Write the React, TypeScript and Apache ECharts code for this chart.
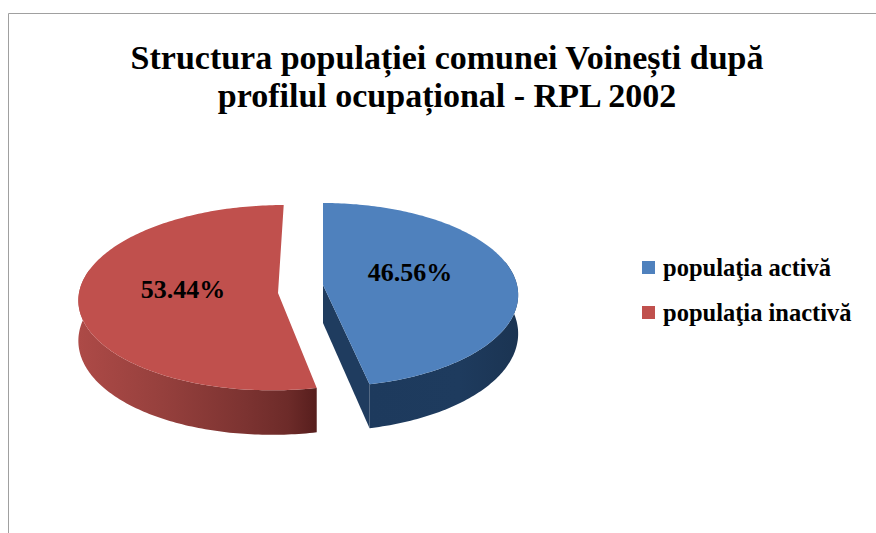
import React, { useEffect, useRef } from "react";
import * as echarts from "echarts";

const titleText = "Structura populației comunei Voinești după\nprofilul ocupațional - RPL 2002";
const categories = ["populaţia activă", "populaţia inactivă"];
const shares = [46.56, 53.44];

const RAD = Math.PI / 180;
const FONT = "'Liberation Serif', 'Times New Roman', serif";

// Perspective view of each exploded slice (styling only, no data)
const views = [
  { cx: 323, cy: 285, a: 194, b: 90.9, p: -0.1087, s: 0, d0: 38, d1: 6, lx: 410, ly: 272,
    top: "#4f81bd", cut: "#1f3c5f", showCut: true,
    wall: [[0, "#1d3a5d"], [0.6, "#1e3b5e"], [1, "#1b3452"]] },
  { cx: 278, cy: 293, a: 199, b: 92.4, p: -0.0505, s: -6, d0: 40, d1: 4.5, lx: 183, ly: 289,
    top: "#c0504d", cut: "#5f2321", showCut: false,
    wall: [[0, "#ad4a47"], [0.35, "#96403d"], [0.7, "#7c3331"], [0.88, "#6d2b29"], [1, "#571e1d"]] },
];

function project(g: any, deg: number, lower: boolean) {
  const u = Math.sin(deg * RAD);
  const v = -Math.cos(deg * RAD);
  const d = 1 + g.p * v;
  const x = g.cx + (g.a * u + g.s * v) / d;
  const y = g.cy + (g.b * v) / d + (lower ? g.d0 + g.d1 * v : 0);
  return [x, y];
}

function arc(g: any, from: number, to: number, lower: boolean) {
  const pts: number[][] = [];
  for (let t = from; t < to; t += 1) pts.push(project(g, t, lower));
  pts.push(project(g, to, lower));
  return pts;
}

function sliceRenderer(index: number) {
  return (_params: any, api: any) => {
    const total = shares.reduce((s, x) => s + x, 0);
    const before = shares.slice(0, index).reduce((s, x) => s + x, 0);
    const value = api.value(0);
    const from = (before / total) * 360;
    const to = ((before + value) / total) * 360;
    const g = views[index];
    const upper = arc(g, from, to, false);
    const lower = arc(g, from, to, true);
    // only the front of the rim is ever seen
    const wallFrom = Math.max(from, 75);
    const wallTo = Math.min(to, 285);
    const wallUpper = arc(g, wallFrom, wallTo, false);
    const wallLower = arc(g, wallFrom, wallTo, true);
    const apexUp = [g.cx, g.cy];
    const apexDown = [g.cx, g.cy + g.d0];
    const wallGrad = new echarts.graphic.LinearGradient(
      0, 0, 1, 0,
      g.wall.map(([offset, color]) => ({ offset: offset as number, color: color as string }))
    );
    const children: any[] = [
      { type: "polygon", shape: { points: [...wallUpper, ...wallLower.slice().reverse()] }, style: { fill: wallGrad } },
    ];
    if (g.showCut) {
      children.push({
        type: "polygon",
        shape: { points: [apexUp, upper[upper.length - 1], lower[lower.length - 1], apexDown] },
        style: { fill: g.cut },
      });
    }
    children.push(
      { type: "polygon", shape: { points: [apexUp, ...upper] }, style: { fill: g.top } },
      {
        type: "text",
        style: {
          text: value.toFixed(2) + "%",
          x: g.lx,
          y: g.ly,
          align: "center",
          verticalAlign: "middle",
          font: `bold 26px ${FONT}`,
          fill: "#000",
        },
      }
    );
    return { type: "group", children };
  };
}

export default function App() {
  const ref = useRef<HTMLDivElement>(null);
  useEffect(() => {
    const chart = echarts.init(ref.current!, null, { renderer: "svg" });
    chart.setOption({
      animation: false,
      backgroundColor: "#fff",
      title: {
        text: titleText,
        left: 442,
        top: 33,
        textAlign: "center",
        textStyle: { fontFamily: FONT, fontWeight: "bold", fontSize: 34, lineHeight: 38, color: "#000" },
      },
      legend: {
        orient: "vertical",
        left: 637,
        top: 250,
        icon: "rect",
        itemWidth: 13,
        itemHeight: 13,
        itemGap: 20,
        data: categories,
        textStyle: { fontFamily: FONT, fontWeight: "bold", fontSize: 24.5, color: "#000", padding: [0, 0, 0, 3] },
      },
      graphic: [
        {
          type: "polyline",
          shape: { points: [[8.5, 533], [8.5, 13.5], [876, 13.5]] },
          style: { stroke: "#a0a0a0", lineWidth: 1, fill: "none" },
        },
      ],
      series: categories.map((name, i) => ({
        type: "custom",
        name,
        coordinateSystem: "none",
        itemStyle: { color: views[i].top },
        renderItem: sliceRenderer(i),
        data: [[shares[i]]],
      })),
    });
    return () => chart.dispose();
  }, []);
  return <div ref={ref} style={{ position: "absolute", left: 0, top: 0, width: 876, height: 533 }} />;
}
